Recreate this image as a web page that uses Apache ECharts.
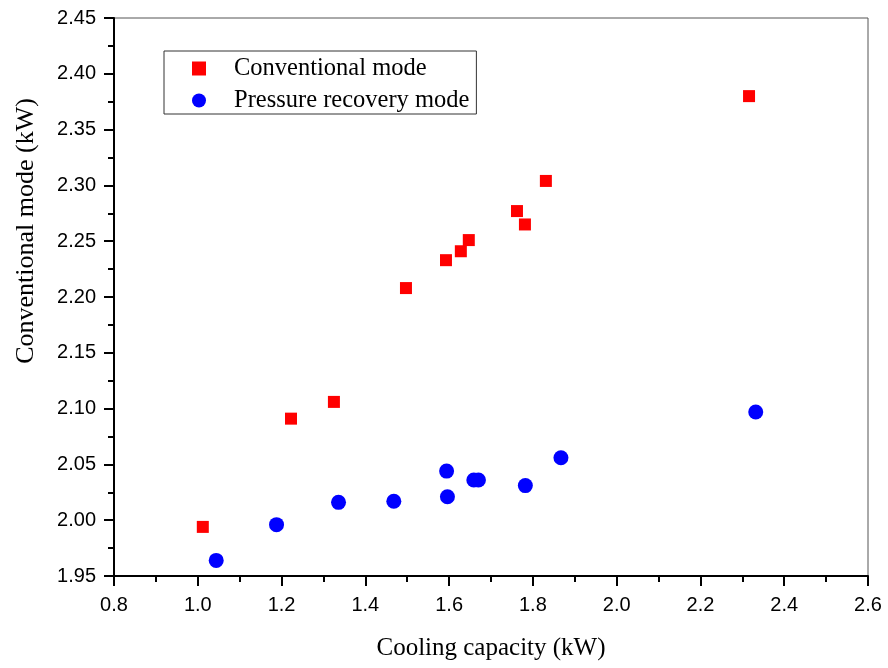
<!DOCTYPE html>
<html>
<head>
<meta charset="utf-8">
<script src="https://cdn.jsdelivr.net/npm/echarts@6/dist/echarts.min.js"></script>
<style>html,body{margin:0;padding:0;background:#fff;}#c{width:888px;height:668px;}</style>
</head>
<body>
<div id="c"></div>
<script>
var convX = [1.012, 1.2225, 1.325, 1.497, 1.5925, 1.628, 1.647, 1.762, 1.781, 1.831, 2.316];
var convY = [1.994, 2.091, 2.106, 2.208, 2.233, 2.241, 2.251, 2.277, 2.265, 2.304, 2.380];
var presX = [1.044, 1.188, 1.336, 1.468, 1.594, 1.596, 1.659, 1.670, 1.782, 1.867, 2.332];
var presY = [1.964, 1.996, 2.016, 2.017, 2.044, 2.021, 2.036, 2.036, 2.031, 2.056, 2.097];
var seriesNames = ['Conventional mode', 'Pressure recovery mode'];
var xTitle = 'Cooling capacity (kW)';
var yTitle = 'Conventional mode (kW)';

function pairs(xs, ys) { return xs.map(function (x, i) { return [x, ys[i]]; }); }

var chart = echarts.init(document.getElementById('c'));
var serif = 'Liberation Serif';
var sans = 'Liberation Sans';
chart.setOption({
  animation: false,
  backgroundColor: '#fff',
  grid: { left: 114, top: 18, right: 20, bottom: 92, show: true, borderColor: '#555', borderWidth: 1 },
  legend: {
    left: 164, top: 51, orient: 'vertical',
    padding: [5, 7, 1, 28],
    itemGap: 7,
    itemWidth: 14, itemHeight: 14,
    borderColor: '#333', borderWidth: 1,
    data: [
      { name: seriesNames[0], icon: 'rect' },
      { name: seriesNames[1], icon: 'circle' }
    ],
    textStyle: { fontFamily: serif, fontSize: 24.5, color: '#000', lineHeight: 24, padding: [0, 0, 0, 23] }
  },
  xAxis: {
    type: 'value', min: 0.8, max: 2.6, interval: 0.2,
    name: xTitle, nameLocation: 'middle', nameGap: 60,
    nameTextStyle: { fontFamily: serif, fontSize: 25, color: '#000' },
    axisLine: { show: true, onZero: false, lineStyle: { color: '#000', width: 2 } },
    axisTick: { show: true, inside: false, length: 10, lineStyle: { color: '#000', width: 2 } },
    minorTick: { show: true, splitNumber: 2, length: 6, lineStyle: { color: '#000', width: 2 } },
    axisLabel: { fontFamily: sans, fontSize: 20, color: '#000', margin: 19,
      formatter: function (v) { return v.toFixed(1); } },
    splitLine: { show: false }
  },
  yAxis: {
    type: 'value', min: 1.95, max: 2.45, interval: 0.05,
    axisLine: { show: true, onZero: false, lineStyle: { color: '#000', width: 2 } },
    axisTick: { show: true, inside: false, length: 10, lineStyle: { color: '#000', width: 2 } },
    minorTick: { show: true, splitNumber: 2, length: 6, lineStyle: { color: '#000', width: 2 } },
    axisLabel: { fontFamily: sans, fontSize: 20, color: '#000', margin: 18,
      formatter: function (v) { return v.toFixed(2); } },
    splitLine: { show: false }
  },
  graphic: [{
    type: 'text', x: 26, y: 231, rotation: Math.PI / 2,
    style: { text: yTitle, fontFamily: serif, fontSize: 26, fill: '#000', align: 'center', verticalAlign: 'middle' }
  }],
  series: [
    { name: seriesNames[0], type: 'scatter', symbol: 'rect', symbolSize: 12,
      itemStyle: { color: '#ff0000', opacity: 1 }, data: pairs(convX, convY) },
    { name: seriesNames[1], type: 'scatter', symbol: 'circle', symbolSize: 15,
      itemStyle: { color: '#0000ff', opacity: 1 }, data: pairs(presX, presY) }
  ]
});
</script>
</body>
</html>
